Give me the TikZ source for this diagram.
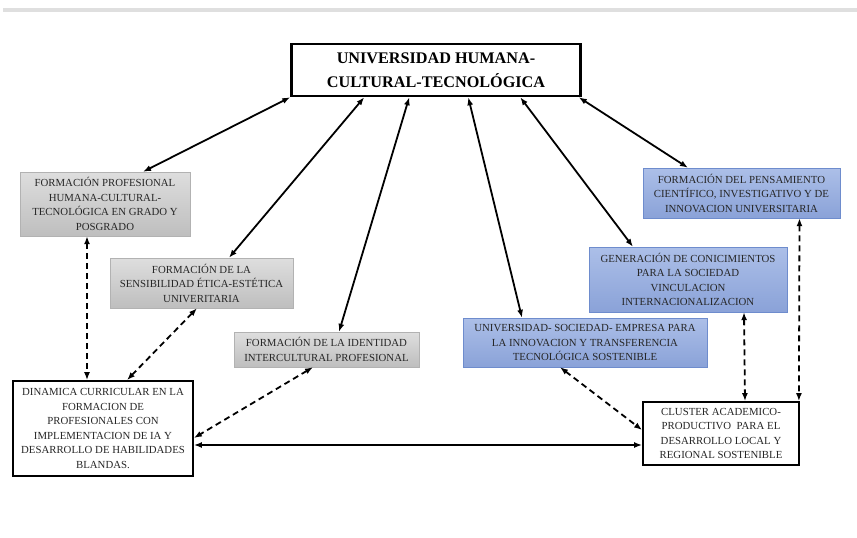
\documentclass[tikz,border=0pt]{standalone}
\usepackage{fontspec}
\setmainfont{Liberation Serif}
\usetikzlibrary{calc,arrows.meta}
\definecolor{grisalto}{RGB}{222,222,222}
\definecolor{grisbajo}{RGB}{190,190,190}
\definecolor{azulalto}{RGB}{172,191,232}
\definecolor{azulbajo}{RGB}{138,162,216}
\definecolor{azulborde}{RGB}{110,140,205}

\begin{document}
\begin{tikzpicture}[x=1pt,y=-1pt,
    caja/.style={rectangle,align=center,inner sep=2pt,text=black!85,font={\fontsize{10.8}{14.5}\selectfont}},
    gris/.style={caja,draw=gray!60,top color=grisalto,bottom color=grisbajo},
    azul/.style={caja,draw=azulborde,top color=azulalto,bottom color=azulbajo},
    blanco/.style={caja,draw=black,fill=white,line width=1.8pt},
    flecha/.style={{Latex[length=8pt,width=6pt]}-{Latex[length=8pt,width=6pt]},line width=1.8pt},
    punteada/.style={flecha,dash pattern=on 6pt off 4pt}]
            \useasboundingbox (0,0) rectangle (857,538);
            \fill[gray!25] (3,8) rectangle (857,12);

            \node[caja,text=black,draw,fill=white,line width=2.5pt,minimum width=289pt,minimum height=52pt,
                font={\fontsize{16.2}{24}\selectfont\bfseries}] (main) at (436,70) {
                UNIVERSIDAD HUMANA-\\CULTURAL-TECNOLÓGICA
            };

            \node[gris,minimum width=170pt,minimum height=64pt] (prof) at (105,204) {
                FORMACIÓN PROFESIONAL\\HUMANA-CULTURAL-\\TECNOLÓGICA EN GRADO Y\\POSGRADO
            };
            \node[gris,minimum width=183pt,minimum height=50pt] (etica) at (201.5,283) {
                FORMACIÓN DE LA\\SENSIBILIDAD ÉTICA-ESTÉTICA\\UNIVERITARIA
            };
            \node[gris,minimum width=185pt,minimum height=35pt] (ident) at (326.5,349.5) {
                FORMACIÓN DE LA IDENTIDAD\\INTERCULTURAL PROFESIONAL
            };

            \node[azul,minimum width=244pt,minimum height=49pt] (empresa) at (585,342.5) {
                UNIVERSIDAD- SOCIEDAD- EMPRESA PARA\\LA INNOVACION Y TRANSFERENCIA\\TECNOLÓGICA SOSTENIBLE
            };
            \node[azul,minimum width=198pt,minimum height=65pt] (conoc) at (688,279.5) {
                GENERACIÓN DE CONICIMIENTOS\\PARA LA SOCIEDAD\\VINCULACION\\INTERNACIONALIZACION
            };
            \node[azul,minimum width=197pt,minimum height=50pt] (pensa) at (741.5,193) {
                FORMACIÓN DEL PENSAMIENTO\\CIENTÍFICO, INVESTIGATIVO Y DE\\INNOVACION UNIVERSITARIA
            };

            \node[blanco,minimum width=180pt,minimum height=95pt] (curri) at (103,428.5) {
                DINAMICA CURRICULAR EN LA\\FORMACION DE\\PROFESIONALES CON\\IMPLEMENTACION DE IA Y\\DESARROLLO DE HABILIDADES\\BLANDAS.
            };
            \node[blanco,minimum width=156pt,minimum height=63pt] (cluster) at (721,433.5) {
                CLUSTER ACADEMICO-\\PRODUCTIVO\ \ PARA EL\\DESARROLLO LOCAL Y\\REGIONAL SOSTENIBLE
            };

            % desde la universidad
            \draw[flecha] (main.south west) -- ($ (prof.north) + (38,0) $);
            \draw[flecha] ($ (main.south west) + (74,0) $) -- ($ (etica.north) + (27.5,0) $);
            \draw[flecha] ($ (main.south west) + (119,0) $) -- ($ (ident.north) + (12.5,0) $);
            \draw[flecha] ($ (main.south west) + (178,0) $) -- ($ (empresa.north) + (-63,0) $);
            \draw[flecha] ($ (main.south west) + (230,0) $) -- ($ (conoc.north) + (-55,0) $);
            \draw[flecha] ($ (main.south east) + (-3,0) $) -- ($ (pensa.north) + (-53.5,0) $);

            % hacia la dinamica curricular
            \draw[punteada] ($ (prof.south) + (-18,0) $) -- ($ (curri.north) + (-16,0) $);
            \draw[punteada] ($ (etica.south) + (-4.5,0) $) -- ($ (curri.north) + (24,0) $);
            \draw[punteada] ($ (ident.south) + (-13.5,0) $) -- ($ (curri.east) + (0,9.5) $);
            \draw[flecha] ($ (curri.east) + (0,16.5) $) -- ($ (cluster.west) + (0,11.5) $);

            % hacia el cluster
            \draw[punteada] ($ (empresa.south) + (-25,0) $) -- ($ (cluster.west) + (0,-3.5) $);
            \draw[punteada] ($ (conoc.south) + (56,0) $) -- ($ (cluster.north) + (24,0) $);
            \draw[punteada] ($ (pensa.south) + (58,0) $) -- ($ (cluster.north east) + (-1,0) $);
        \end{tikzpicture}
\end{document}
